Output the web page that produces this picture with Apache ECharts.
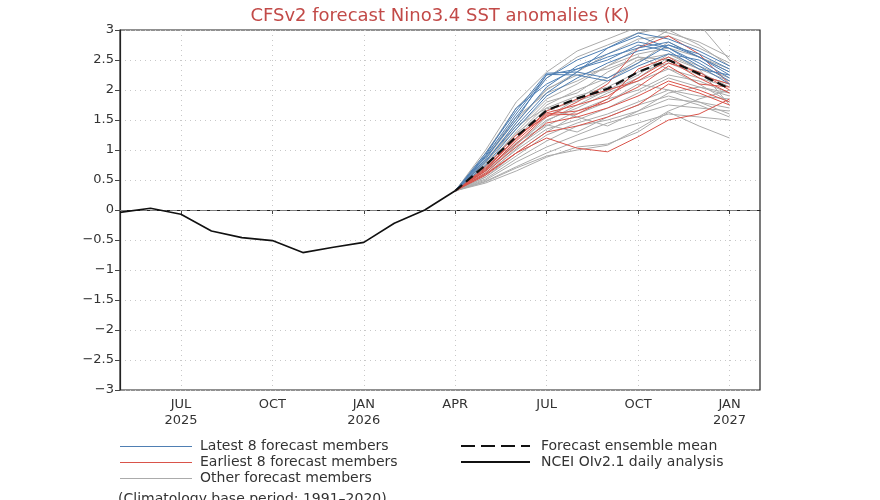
<!DOCTYPE html>
<html>
<head>
<meta charset="utf-8">
<title>CFSv2 Nino3.4</title>
<script src="https://cdn.jsdelivr.net/npm/echarts@6/dist/echarts.min.js"></script>
<style>
  html, body { margin: 0; padding: 0; background: #fff; }
  #chart { width: 880px; height: 500px; }
</style>
</head>
<body>
<div id="chart"></div>
<script>
// months, May 2025 .. Feb 2027
const months = ['May25', 'Jun25', 'Jul25', 'Aug25', 'Sep25', 'Oct25', 'Nov25', 'Dec25',
  'Jan26', 'Feb26', 'Mar26', 'Apr26', 'May26', 'Jun26', 'Jul26', 'Aug26', 'Sep26',
  'Oct26', 'Nov26', 'Dec26', 'Jan27', 'Feb27'];
// label text for the quarter ticks
const tickLabels = { 2: 'JUL\n2025', 5: 'OCT', 8: 'JAN\n2026', 11: 'APR', 14: 'JUL', 17: 'OCT', 20: 'JAN\n2027' };

// observed (NCEI OIv2.1), May 2025 .. Apr 2026
const observed = [-0.04, 0.03, -0.07, -0.35, -0.46, -0.51, -0.71, -0.62, -0.54, -0.22, 0.0, 0.32];

// forecasts start at Apr 2026 (index 11) and run to Jan 2027
const ensMean = [0.32, 0.75, 1.22, 1.66, 1.86, 2.02, 2.30, 2.50, 2.27, 2.02];

const latest8 = [
  [0.32, 0.95, 1.65, 2.28, 2.30, 2.20, 2.45, 2.75, 2.60, 2.35],
  [0.32, 0.90, 1.60, 2.25, 2.35, 2.55, 2.70, 2.80, 2.55, 2.25],
  [0.32, 0.85, 1.55, 2.20, 2.50, 2.70, 2.95, 2.85, 2.65, 2.40],
  [0.32, 0.80, 1.45, 2.05, 2.40, 2.60, 2.80, 2.70, 2.45, 2.15],
  [0.32, 0.88, 1.50, 2.26, 2.25, 2.15, 2.40, 2.60, 2.50, 2.20],
  [0.32, 0.75, 1.35, 1.90, 2.20, 2.45, 2.65, 2.75, 2.55, 2.30],
  [0.32, 0.82, 1.40, 1.95, 2.30, 2.70, 2.90, 2.70, 2.40, 2.10],
  [0.32, 0.92, 1.70, 2.10, 2.35, 2.50, 2.75, 2.65, 2.35, 2.25]
];

const earliest8 = [
  [0.32, 0.70, 1.20, 1.62, 1.75, 1.90, 2.20, 2.50, 2.20, 1.95],
  [0.32, 0.65, 1.15, 1.60, 1.65, 1.80, 2.05, 2.40, 2.10, 2.05],
  [0.32, 0.60, 0.95, 1.20, 1.03, 0.97, 1.22, 1.50, 1.60, 1.85],
  [0.32, 0.72, 1.25, 1.55, 1.80, 2.10, 2.70, 2.90, 2.60, 2.10],
  [0.32, 0.62, 1.05, 1.45, 1.55, 1.70, 1.90, 2.15, 2.00, 1.80],
  [0.32, 0.68, 1.18, 1.65, 1.85, 2.00, 2.15, 2.45, 2.30, 2.00],
  [0.32, 0.58, 0.95, 1.30, 1.40, 1.55, 1.75, 2.10, 1.95, 1.75],
  [0.32, 0.66, 1.10, 1.58, 1.60, 1.85, 2.35, 2.55, 2.25, 2.10]
];

const others = [
  [0.32, 1.00, 1.80, 2.30, 2.65, 2.85, 3.05, 2.95, 2.80, 2.55],
  [0.32, 0.95, 1.70, 2.20, 2.55, 2.75, 2.95, 3.05, 3.10, 2.50],
  [0.32, 0.85, 1.50, 2.00, 2.30, 2.60, 2.85, 2.90, 2.70, 2.45],
  [0.32, 0.80, 1.35, 1.85, 2.10, 2.40, 2.60, 2.70, 2.55, 2.30],
  [0.32, 0.75, 1.25, 1.75, 2.00, 2.20, 2.50, 2.60, 2.40, 2.20],
  [0.32, 0.70, 1.20, 1.70, 1.90, 2.05, 2.30, 2.45, 2.25, 2.10],
  [0.32, 0.68, 1.10, 1.50, 1.70, 1.95, 2.15, 2.35, 2.20, 2.05],
  [0.32, 0.65, 1.05, 1.40, 1.65, 1.85, 2.00, 2.25, 2.15, 1.95],
  [0.32, 0.60, 1.00, 1.35, 1.50, 1.70, 1.95, 2.20, 2.05, 1.90],
  [0.32, 0.55, 0.90, 1.25, 1.45, 1.60, 1.80, 2.00, 1.90, 1.85],
  [0.32, 0.52, 0.85, 1.15, 1.40, 1.50, 1.65, 1.85, 1.80, 1.70],
  [0.32, 0.50, 0.80, 1.05, 1.25, 1.45, 1.60, 1.75, 1.70, 1.65],
  [0.32, 0.48, 0.72, 0.95, 1.15, 1.30, 1.45, 1.60, 1.55, 1.50],
  [0.32, 0.45, 0.65, 0.88, 1.05, 1.10, 1.30, 1.63, 1.40, 1.20],
  [0.32, 0.47, 0.70, 0.90, 1.00, 1.08, 1.35, 1.65, 1.85, 2.00],
  [0.32, 0.78, 1.40, 1.70, 1.55, 1.40, 1.65, 1.95, 2.05, 1.95],
  [0.32, 0.72, 1.30, 1.80, 1.95, 2.30, 2.55, 2.35, 2.10, 1.80],
  [0.32, 0.62, 1.08, 1.55, 1.85, 2.15, 2.45, 2.80, 2.55, 2.35],
  [0.32, 0.58, 1.02, 1.48, 1.75, 2.00, 2.25, 2.60, 2.35, 2.15],
  [0.32, 0.82, 1.45, 2.02, 2.25, 2.35, 2.55, 2.50, 2.30, 2.05],
  [0.32, 0.55, 0.95, 1.30, 1.60, 1.80, 2.10, 2.00, 1.80, 1.60],
  [0.32, 0.90, 1.55, 1.95, 2.15, 2.40, 2.70, 3.00, 2.75, 2.40],
  [0.32, 0.66, 1.12, 1.42, 1.30, 1.55, 1.75, 1.90, 1.75, 1.55],
  [0.32, 0.74, 1.28, 1.66, 1.82, 1.98, 2.20, 2.55, 2.35, 1.75]
];

const FONT = 'DejaVu Sans';
const blue = '#4f7fb3';
const red = '#d9534a';
const gray = '#ababab';

// forecast arrays start at Apr 2026 (index 11)
function pad(vals) {
  const out = new Array(11).fill(null).concat(vals);
  while (out.length < months.length) out.push(null);
  return out;
}
function obsData() {
  const out = observed.slice();
  while (out.length < months.length) out.push(null);
  return out;
}

function memberSeries(list, color, z) {
  return list.map(function (v) {
    return {
      type: 'line',
      data: pad(v),
      showSymbol: false,
      silent: true,
      animation: false,
      z: z,
      lineStyle: { color: color, width: 1 }
    };
  });
}

const isQuarter = function (idx) { return tickLabels[idx] !== undefined; };
const legendFont = '14px "DejaVu Sans"';

const chart = echarts.init(document.getElementById('chart'));
const option = {
  animation: false,
  title: {
    text: 'CFSv2 forecast Nino3.4 SST anomalies (K)',
    left: 'center',
    top: 2,
    textStyle: { fontFamily: FONT, fontSize: 18, fontWeight: 'normal', color: '#c24a48' }
  },
  grid: {
    left: 120, right: 120, top: 30, bottom: 110,
    show: true, borderColor: '#222', borderWidth: 1.2, backgroundColor: 'transparent'
  },
  xAxis: {
    type: 'category',
    data: months,
    boundaryGap: false,
    axisLine: { show: true, lineStyle: { color: '#222', width: 1.2 } },
    axisTick: { show: true, interval: isQuarter, length: 4, lineStyle: { color: '#444' } },
    axisLabel: {
      interval: isQuarter,
      formatter: function (v, idx) { return tickLabels[idx] || ''; },
      fontFamily: FONT, fontSize: 13, color: '#333', lineHeight: 16, margin: 7
    },
    splitLine: { show: true, interval: isQuarter, lineStyle: { color: '#c8c8c8', type: [1, 4], width: 1 } }
  },
  yAxis: {
    type: 'value',
    min: -3, max: 3, interval: 0.5,
    axisLine: { show: true, lineStyle: { color: '#222', width: 1.2 } },
    axisTick: { show: true, length: 5, lineStyle: { color: '#444' } },
    axisLabel: {
      formatter: function (v) { return String(v).replace('-', '\u2212'); },
      fontFamily: FONT, fontSize: 13, color: '#333', margin: 6
    },
    splitLine: {
      show: true,
      lineStyle: { color: '#c8c8c8', type: [1, 4], width: 1 }
    }
  },
  series: [].concat(
    memberSeries(others, gray, 2),
    memberSeries(earliest8, red, 3),
    memberSeries(latest8, blue, 4),
    [{
      type: 'line',
      data: pad(ensMean),
      showSymbol: false,
      silent: true,
      z: 6,
      lineStyle: { color: '#111', width: 2.2, type: [9, 5] }
    }, {
      type: 'line',
      data: obsData(),
      showSymbol: false,
      silent: true,
      z: 7,
      lineStyle: { color: '#111', width: 1.6 },
      markLine: {
        silent: true,
        symbol: 'none',
        label: { show: false },
        z: 1,
        lineStyle: { color: '#999999', type: [7, 3], width: 1.2, opacity: 0.8 },
        data: [{ yAxis: 0 }]
      }
    }]
  ),
  graphic: [
    // left legend column
    { type: 'line', shape: { x1: 120, y1: 446.5, x2: 192, y2: 446.5 }, style: { stroke: blue, lineWidth: 1 } },
    { type: 'text', x: 200, y: 446, style: { text: 'Latest 8 forecast members', font: legendFont, fill: '#333', verticalAlign: 'middle' } },
    { type: 'line', shape: { x1: 120, y1: 462.5, x2: 192, y2: 462.5 }, style: { stroke: red, lineWidth: 1 } },
    { type: 'text', x: 200, y: 462, style: { text: 'Earliest 8 forecast members', font: legendFont, fill: '#333', verticalAlign: 'middle' } },
    { type: 'line', shape: { x1: 120, y1: 478.5, x2: 192, y2: 478.5 }, style: { stroke: gray, lineWidth: 1 } },
    { type: 'text', x: 200, y: 478, style: { text: 'Other forecast members', font: legendFont, fill: '#333', verticalAlign: 'middle' } },
    { type: 'text', x: 118, y: 499, style: { text: '(Climatology base period: 1991\u20132020)', font: legendFont, fill: '#333', verticalAlign: 'middle' } },
    // right legend column
    { type: 'line', shape: { x1: 461, y1: 446, x2: 530, y2: 446 }, style: { stroke: '#111', lineWidth: 2.2, lineDash: [14, 6] } },
    { type: 'text', x: 541, y: 446, style: { text: 'Forecast ensemble mean', font: legendFont, fill: '#333', verticalAlign: 'middle' } },
    { type: 'line', shape: { x1: 461, y1: 462, x2: 530, y2: 462 }, style: { stroke: '#111', lineWidth: 2 } },
    { type: 'text', x: 541, y: 462, style: { text: 'NCEI OIv2.1 daily analysis', font: legendFont, fill: '#333', verticalAlign: 'middle' } }
  ]
};
chart.setOption(option);
</script>
</body>
</html>
